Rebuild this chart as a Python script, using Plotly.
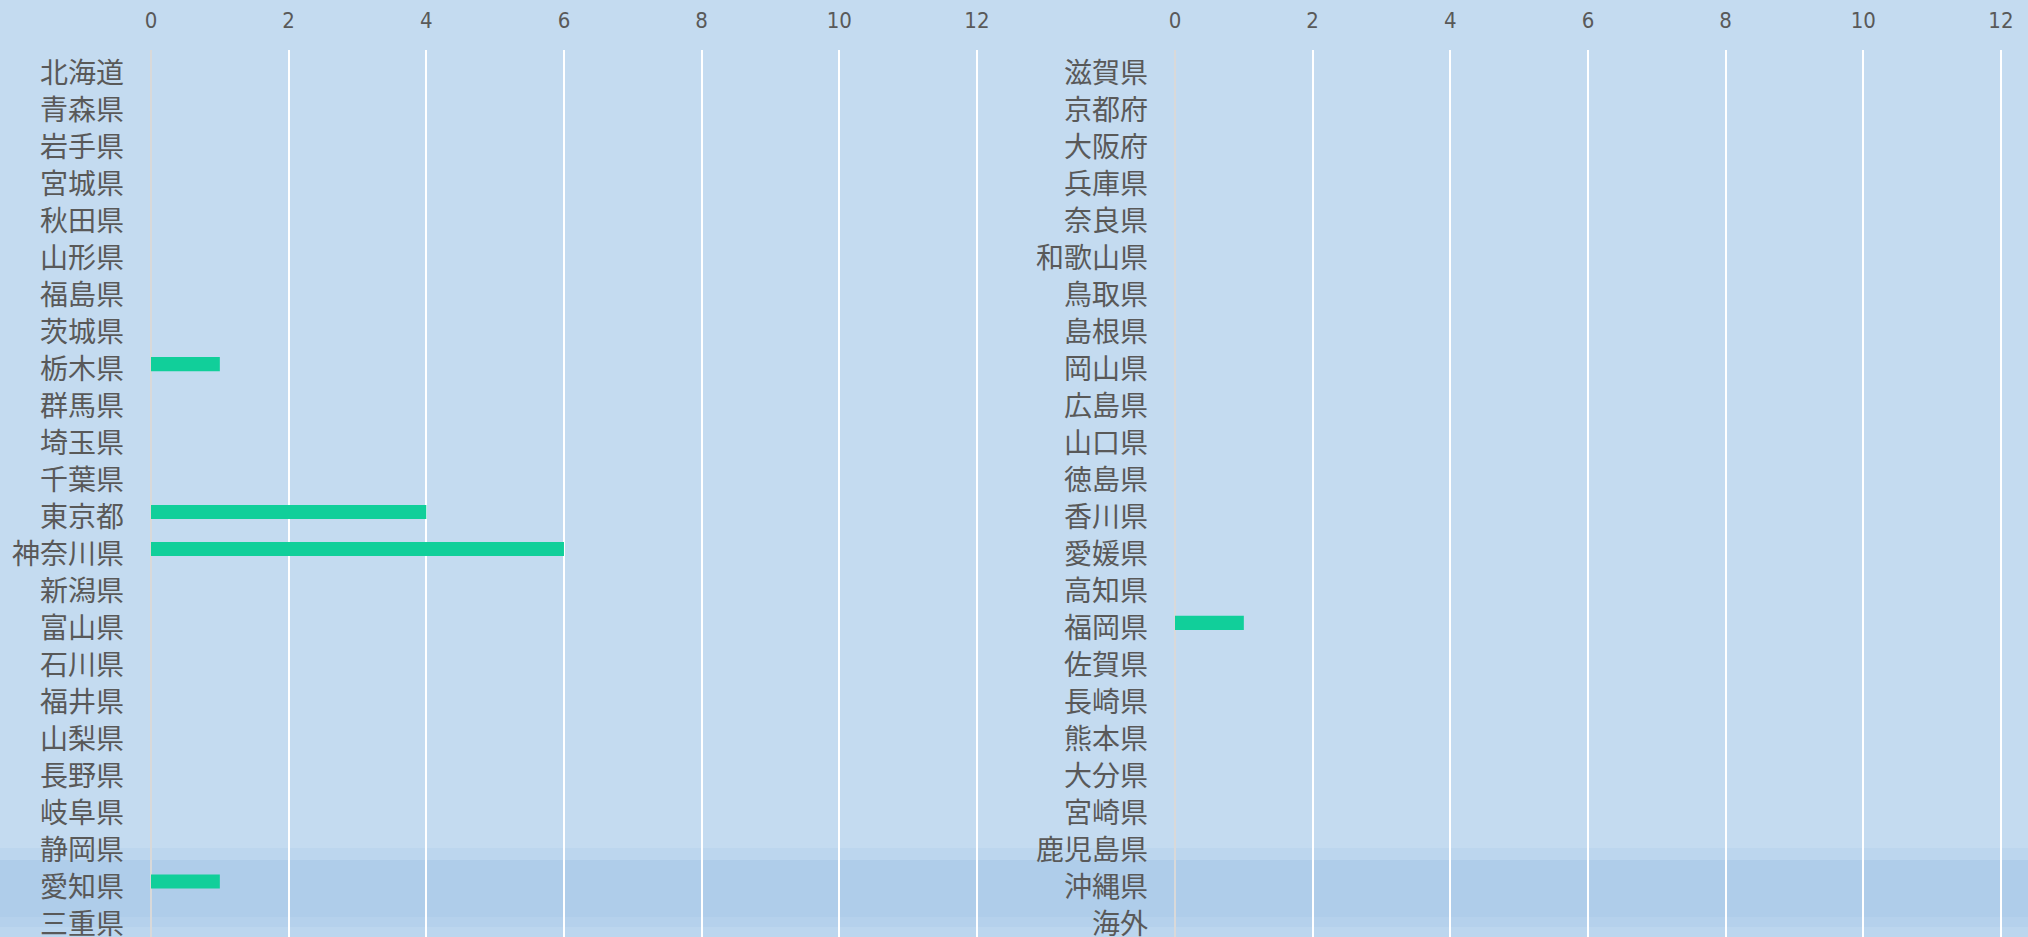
import plotly.graph_objects as go

left_categories = ["北海道", "青森県", "岩手県", "宮城県", "秋田県", "山形県", "福島県", "茨城県",
                   "栃木県", "群馬県", "埼玉県", "千葉県", "東京都", "神奈川県", "新潟県", "富山県",
                   "石川県", "福井県", "山梨県", "長野県", "岐阜県", "静岡県", "愛知県", "三重県"]
left_values = [0, 0, 0, 0, 0, 0, 0, 0,
               1, 0, 0, 0, 4, 6, 0, 0,
               0, 0, 0, 0, 0, 0, 1, 0]

right_categories = ["滋賀県", "京都府", "大阪府", "兵庫県", "奈良県", "和歌山県", "鳥取県", "島根県",
                    "岡山県", "広島県", "山口県", "徳島県", "香川県", "愛媛県", "高知県", "福岡県",
                    "佐賀県", "長崎県", "熊本県", "大分県", "宮崎県", "鹿児島県", "沖縄県", "海外"]
right_values = [0, 0, 0, 0, 0, 0, 0, 0,
                0, 0, 0, 0, 0, 0, 0, 1,
                0, 0, 0, 0, 0, 0, 0, 0]

x_ticks = [0, 2, 4, 6, 8, 10, 12]

W, H = 2028, 937
BAR = "#11CF9A"
TXT = "#595959"
NUM_FONT = "Liberation Sans Narrow, DejaVu Sans Condensed, Roboto, sans-serif"
CJK_FONT = "Noto Sans CJK JP, sans-serif"

fig = go.Figure()
fig.add_trace(go.Bar(y=left_categories, x=left_values, orientation="h",
                     marker=dict(color=BAR, line=dict(width=0)),
                     xaxis="x", yaxis="y", width=0.38, hoverinfo="x+y"))
fig.add_trace(go.Bar(y=right_categories, x=right_values, orientation="h",
                     marker=dict(color=BAR, line=dict(width=0)),
                     xaxis="x2", yaxis="y2", width=0.38, hoverinfo="x+y"))

xcommon = dict(range=[0, 12.03], tickvals=x_ticks, side="top", showgrid=True,
               gridcolor="white", gridwidth=1.5, zeroline=True, zerolinecolor="#D9D9D9",
               zerolinewidth=2, showline=False, ticks="", ticklabelstandoff=17,
               tickfont=dict(family=NUM_FONT, size=22, color=TXT), automargin=False,
               fixedrange=True)
ycommon = dict(range=[23.5, -0.5], showgrid=False, zeroline=False, showline=False,
               ticks="", showticklabels=False, automargin=False, fixedrange=True)

fig.update_layout(
    width=W, height=H,
    margin=dict(l=0, r=0, t=50, b=0),
    paper_bgcolor="#C4DBF0",
    plot_bgcolor="rgba(0,0,0,0)",
    showlegend=False,
    bargap=0.62,
    xaxis=dict(domain=[151 / W, 979 / W], anchor="y", **xcommon),
    yaxis=dict(domain=[0, 1], anchor="x", categoryarray=left_categories,
               categoryorder="array", **ycommon),
    xaxis2=dict(domain=[1175 / W, 2003 / W], anchor="y2", **xcommon),
    yaxis2=dict(domain=[0, 1], anchor="x2", categoryarray=right_categories,
                categoryorder="array", **ycommon),
)

# category labels (real text), right-aligned against each panel's zero line
for cats, xr, yr in [(left_categories, "x", "y"), (right_categories, "x2", "y2")]:
    for c in cats:
        fig.add_annotation(x=0, y=c, xref=xr, yref=yr, text=c, showarrow=False,
                           xanchor="right", yanchor="middle", xshift=-25, yshift=-3,
                           font=dict(family=CJK_FONT, size=28, color=TXT))

# subtle background band near the bottom of the page
band = [(0.1003, 0.0868, "#BCD6EE"), (0.0868, 0.0226, "#AFCDEA"),
        (0.0226, 0.0113, "#B5D1EC"), (0.0113, -0.01, "#BCD6EE")]
for top, bot, col in band:
    fig.add_shape(type="rect", xref="paper", yref="paper", x0=-0.01, x1=1.01,
                  y0=bot, y1=top, fillcolor=col, line=dict(width=0), layer="below")

fig.write_html("out.html", config={"displayModeBar": False},
               post_script="document.body.style.margin='0';document.body.style.overflow='hidden';")
